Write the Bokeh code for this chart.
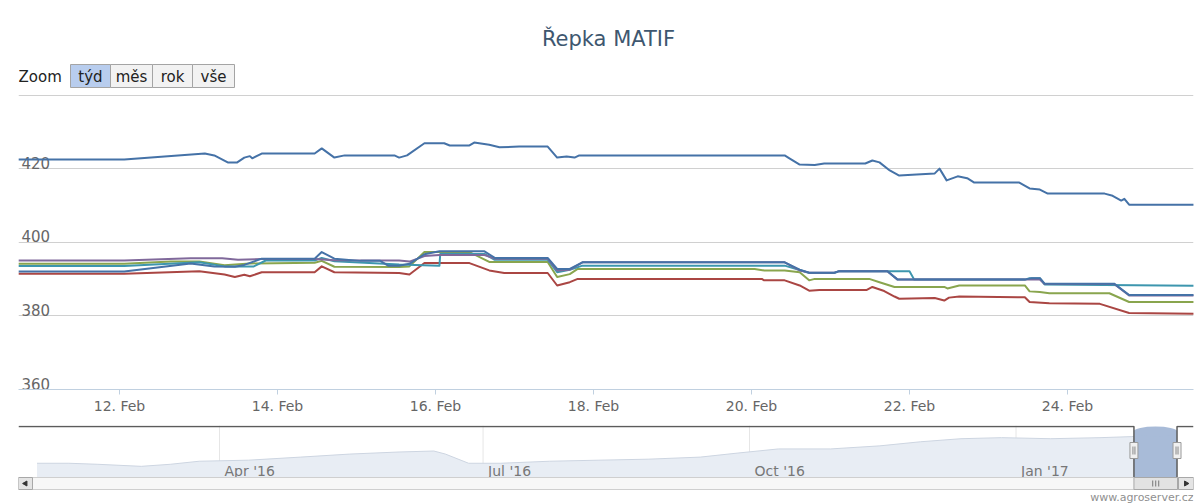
import numpy as np
import pandas as pd
from bokeh.plotting import figure
from bokeh.layouts import column
from bokeh.models import Range1d, FixedTicker, DatetimeTickFormatter, Grid
from bokeh.core.properties import value
from bokeh.embed import file_html
from bokeh.resources import INLINE

# ---------------- data ----------------
TITLE = "Řepka MATIF"
ZOOM_LABEL = "Zoom"
ZOOM_BUTTONS = ["týd", "měs", "rok", "vše"]
CREDITS = "www.agroserver.cz"

# x values are fractional days of February 2017
top_days = [10.72, 12.06, 13.08, 13.2, 13.37, 13.49, 13.58, 13.65, 13.68, 13.80, 14.47, 14.56, 14.72, 14.85,
            15.48, 15.54, 15.64, 15.86, 16.11, 16.18, 16.43, 16.49, 16.68, 16.81, 17.06, 17.42, 17.54, 17.66,
            17.76, 17.82, 20.42, 20.48, 20.61, 20.80, 20.92, 21.44, 21.53, 21.62, 21.75, 21.87, 22.09, 22.32,
            22.38, 22.47, 22.61, 22.73, 22.82, 23.39, 23.52, 23.65, 23.75, 24.47, 24.56, 24.68, 24.72, 24.78, 25.60]
top_vals = [422.6, 422.6, 424.2, 423.7, 421.8, 421.8, 423.1, 423.5, 422.9, 424.2, 424.2, 425.6, 423.1, 423.7,
            423.7, 423.1, 423.7, 427.0, 427.0, 426.4, 426.4, 427.2, 426.6, 425.9, 426.1, 426.1, 423.1, 423.4,
            423.1, 423.7, 423.7, 422.9, 421.2, 421.1, 421.5, 421.5, 422.3, 421.8, 419.6, 418.2, 418.5, 418.8,
            420.1, 416.9, 418.0, 417.5, 416.3, 416.3, 414.7, 414.4, 413.3, 413.3, 412.8, 411.4, 411.9, 410.3, 410.3]

purple_days = [10.72, 12.06, 12.9, 13.3, 13.5, 13.8, 14.47, 14.72, 15.54, 15.67, 15.86, 16.05, 16.62, 16.75,
               17.42, 17.54, 17.70, 17.86, 20.42, 20.61, 20.73, 21.05, 21.11, 21.72, 21.85, 23.65, 23.71, 24.59,
               24.78, 25.60]
purple_vals = [395.1, 395.1, 395.7, 395.7, 395.3, 395.5, 395.5, 395.2, 395.1, 394.8, 396.3, 396.6, 396.6, 395.6,
               395.6, 392.4, 392.6, 394.6, 394.6, 392.4, 391.8, 391.8, 392.2, 392.2, 389.9, 389.9, 388.7, 388.7,
               385.6, 385.6]

blue2_days = [10.72, 12.06, 12.9, 13.2, 13.46, 13.58, 13.80, 14.47, 14.56, 14.72, 15.05, 15.30, 15.40, 15.54,
              15.67, 15.86, 16.05, 16.62, 16.75, 17.42, 17.54, 17.70, 17.86, 20.42, 20.61, 20.73, 21.05, 21.11,
              21.72, 21.85, 23.46, 23.55, 23.65, 23.71, 24.59, 24.78, 25.60]
blue2_vals = [392.1, 392.1, 394.3, 393.5, 393.4, 393.9, 395.6, 395.6, 397.4, 395.6, 395.0, 395.0, 393.7, 393.7,
              394.2, 396.8, 397.6, 397.6, 395.8, 395.8, 392.8, 392.8, 394.6, 394.6, 392.6, 391.8, 391.8, 392.2,
              392.2, 389.9, 389.9, 390.3, 390.3, 388.8, 388.8, 385.7, 385.7]

teal_days = [10.72, 12.06, 13.01, 13.33, 13.70, 13.85, 14.47, 14.56, 14.72, 15.54, 16.05, 16.06, 16.62, 16.75,
             17.42, 17.54, 17.70, 17.86, 20.42, 20.61, 20.73, 21.05, 21.11, 22.00, 22.06, 23.46, 23.52, 23.65,
             23.71, 25.60]
teal_vals = [393.6, 393.6, 394.6, 393.5, 393.5, 395.1, 395.1, 395.8, 394.9, 394.0, 393.7, 396.9, 396.9, 395.3,
             395.3, 391.9, 392.6, 393.7, 393.7, 392.5, 391.7, 391.7, 392.2, 392.2, 389.9, 389.9, 390.3, 390.3,
             388.6, 388.2]

green_days = [10.72, 12.06, 12.65, 13.01, 13.33, 13.65, 14.47, 14.56, 14.72, 15.54, 15.67, 15.86, 16.43, 16.68,
              17.42, 17.54, 17.70, 17.80, 20.04, 20.16, 20.42, 20.61, 20.73, 20.80, 21.49, 21.62, 21.81, 22.44,
              22.48, 22.63, 23.46, 23.52, 23.65, 23.77, 24.53, 24.78, 25.60]
green_vals = [394.2, 394.2, 394.8, 394.8, 393.8, 394.3, 394.5, 395.0, 393.4, 393.3, 393.5, 397.4, 397.4, 394.7,
              394.7, 390.6, 391.4, 392.8, 392.8, 392.4, 392.4, 391.9, 389.7, 390.1, 390.1, 389.2, 387.9, 387.9,
              387.5, 388.3, 388.3, 386.7, 386.5, 386.2, 386.2, 383.8, 383.8]

red_days = [10.72, 12.06, 13.01, 13.33, 13.46, 13.58, 13.65, 13.80, 14.47, 14.56, 14.72, 15.54, 15.67, 15.86,
            16.43, 16.68, 16.87, 17.42, 17.54, 17.70, 17.80, 20.13, 20.16, 20.42, 20.61, 20.73, 20.86, 21.46,
            21.53, 21.68, 21.81, 21.87, 22.32, 22.44, 22.50, 22.63, 23.46, 23.52, 23.77, 24.41, 24.78, 25.60]
red_vals = [391.5, 391.5, 392.2, 391.3, 390.6, 391.2, 390.8, 391.9, 391.9, 393.5, 391.9, 391.7, 391.3, 394.4,
            394.4, 392.4, 391.7, 391.7, 388.3, 389.2, 390.1, 390.1, 389.7, 389.7, 388.3, 386.9, 387.1, 387.1,
            387.9, 386.8, 385.3, 384.7, 384.9, 384.2, 385.0, 385.3, 385.1, 383.8, 383.5, 383.3, 380.8, 380.6]

series_colors = ["#AA4643", "#89A54E", "#3D96AE", "#80699B", "#4572A7", "#4572A7"]

y_ticks = [360, 380, 400, 420, 440]
y_tick_labels = ["360", "380", "400", "420"]
x_tick_days = [12, 14, 16, 18, 20, 22, 24]

nav_dates = ["2016-01-29", "2016-02-09", "2016-02-19", "2016-03-05", "2016-03-15", "2016-03-25", "2016-04-11",
             "2016-04-29", "2016-05-16", "2016-06-02", "2016-06-14", "2016-06-18", "2016-06-26", "2016-07-07",
             "2016-07-24", "2016-08-10", "2016-08-27", "2016-09-14", "2016-09-27", "2016-10-11", "2016-10-29",
             "2016-11-15", "2016-11-29", "2016-12-13", "2016-12-27", "2017-01-13", "2017-01-30", "2017-02-10",
             "2017-02-17", "2017-02-25"]
nav_vals = [357.5, 357.5, 355.2, 350.7, 355.2, 362.0, 364.3, 371.1, 377.8, 382.4, 384.6, 377.8, 357.5, 357.5,
            362.0, 364.3, 366.5, 371.1, 380.1, 389.2, 389.2, 396.0, 405.0, 411.8, 414.1, 411.8, 414.1, 416.4,
            423.0, 410.3]
nav_tick_dates = ["2016-04-01", "2016-07-01", "2016-10-01", "2017-01-01"]
nav_tick_labels = ["Apr '16", "Jul '16", "Oct '16", "Jan '17"]

# ---------------- helpers ----------------
FONT = value("DejaVu Sans")
BASE = pd.Timestamp("2017-01-31")
DAY = pd.Timedelta(days=1)


def to_dt(days):
    return [BASE + pd.Timedelta(days=float(d)) for d in days]


def ms(ts):
    return ts.value / 1e6


W = 1195
LEFT, RIGHT = 18, 2
FRAME_W = W - LEFT - RIGHT

# ---------------- header (coordinates = page pixels) ----------------
HH = 93
hdr = figure(width=W, height=HH, x_range=Range1d(LEFT, W - RIGHT), y_range=Range1d(HH, 0),
             toolbar_location=None, output_backend="svg",
             min_border_left=LEFT, min_border_right=RIGHT, min_border_top=0, min_border_bottom=0,
             x_axis_location=None, y_axis_location=None, outline_line_color=None)
hdr.grid.visible = False
hdr.text(x=[608], y=[38], text=[TITLE], text_font=FONT, text_font_size="21px",
         text_color="#3E576F", text_align="center", text_baseline="middle")
hdr.text(x=[18], y=[76], text=[ZOOM_LABEL], text_font=FONT, text_font_size="15px",
         text_color="#222222", text_align="left", text_baseline="middle")
b_left = [70, 110, 152, 192]
b_right = [110, 152, 192, 234]
b_fill = ["#b8cdee", "#f2f2f2", "#f2f2f2", "#f2f2f2"]
hdr.quad(left=b_left, right=b_right, top=[64] * 4, bottom=[87] * 4, fill_color=b_fill,
         line_color="#a4a4a4", line_width=1)
hdr.text(x=[(a + b) / 2 for a, b in zip(b_left, b_right)], y=[76] * 4, text=ZOOM_BUTTONS, text_font=FONT,
         text_font_size="15px", text_color="#222222", text_align="center", text_baseline="middle")

# ---------------- main chart ----------------
PX_PER_DAY = 79.0
FEB12_PX = 119.0
x0 = BASE + pd.Timedelta(days=12 + (LEFT - FEB12_PX) / PX_PER_DAY)
x1 = BASE + pd.Timedelta(days=12 + (W - RIGHT - FEB12_PX) / PX_PER_DAY)

main = figure(width=W, height=327, x_axis_type="datetime", x_range=Range1d(x0, x1),
              y_range=Range1d(360, 440.27), toolbar_location=None, output_backend="svg",
              min_border_left=LEFT, min_border_right=RIGHT, min_border_top=1, min_border_bottom=31,
              y_axis_location=None, outline_line_color=None)
main.grid.visible = False
main.add_layout(Grid(dimension=1, ticker=FixedTicker(ticks=y_ticks), grid_line_color="#d0d0d0",
                     grid_line_width=1))

xa = main.xaxis[0]
xa.ticker = FixedTicker(ticks=[ms(t) for t in to_dt(x_tick_days)])
fmt = "%d. %b"
xa.formatter = DatetimeTickFormatter(days=fmt, hours=fmt, months=fmt, minutes=fmt, hourmin=fmt)
xa.axis_line_color = "#C0D0E0"
xa.major_tick_line_color = "#C0D0E0"
xa.major_tick_out = 5
xa.major_tick_in = 0
xa.minor_tick_line_color = None
xa.major_label_text_font = "DejaVu Sans"
xa.major_label_text_font_size = "14px"
xa.major_label_text_color = "#666666"
xa.major_label_standoff = 3

main.text(x=[x0] * len(y_tick_labels), y=[float(v) for v in y_tick_labels], text=y_tick_labels,
          text_font=FONT, text_font_size="15px", text_color="#666666", text_align="left",
          text_baseline="bottom", x_offset=3)

lower = [(red_days, red_vals), (green_days, green_vals), (teal_days, teal_vals),
         (purple_days, purple_vals), (blue2_days, blue2_vals), (top_days, top_vals)]
for (d, v), c in zip(lower, series_colors):
    main.line(to_dt(d), v, line_color=c, line_width=2, line_join="round")

# ---------------- navigator ----------------
NAV_H = 83
NAV_TOP = 5
NAV_FRAME_H = NAV_H - NAV_TOP
NAV_AREA_H = 52
nav_lo, nav_hi = 326.0, 441.0
upp = (nav_hi - nav_lo) / NAV_AREA_H
ppd = (1015.5 - 219.0) / 275.0
n0 = pd.Timestamp("2016-04-01") - pd.Timedelta(days=(219 - LEFT) / ppd)
n1 = n0 + pd.Timedelta(days=FRAME_W / ppd)

nav = figure(width=W, height=NAV_H, x_axis_type="datetime", x_range=Range1d(n0, n1),
             y_range=Range1d(nav_lo - (NAV_FRAME_H - NAV_AREA_H) * upp, nav_hi),
             toolbar_location=None, output_backend="svg",
             min_border_left=LEFT, min_border_right=RIGHT, min_border_top=NAV_TOP, min_border_bottom=0,
             x_axis_location=None, y_axis_location=None, outline_line_color=None)
nav.grid.visible = False
nav.extra_x_ranges = {"px": Range1d(0, FRAME_W)}
nav.extra_y_ranges = {"py": Range1d(NAV_FRAME_H, 0)}

qd = [pd.Timestamp(d) for d in nav_tick_dates]
nav.segment(x0=qd, y0=[0] * 4, x1=qd, y1=[NAV_AREA_H] * 4, y_range_name="py",
            line_color="#e6e6e6", line_width=1)
nd = [pd.Timestamp(d) for d in nav_dates]
nav.varea(x=nd, y1=[nav_lo] * len(nd), y2=nav_vals, fill_color="#e8edf4")
nav.line(nd, nav_vals, line_color="#cdd5e1", line_width=1)
nav.text(x=qd, y=[45] * 4, y_range_name="py", text=nav_tick_labels, text_font=FONT,
         text_font_size="14px", text_color="#777777", text_align="left", text_baseline="alphabetic",
         x_offset=5)

# selection (main chart range on navigator scale, in px)
s0 = (x0 - n0) / DAY * ppd
s1 = (x1 - n0) / DAY * ppd
nav.quad(left=[s0], right=[s1], top=[5], bottom=[NAV_AREA_H], x_range_name="px", y_range_name="py",
         fill_color="#a8bbd8", line_color=None)
nav.ellipse(x=[(s0 + s1) / 2], y=[6], width=[s1 - s0], height=[10], x_range_name="px", y_range_name="py",
            fill_color="#a8bbd8", line_color=None)
# outline
nav.line(x=[0, s0, s0], y=[1, 1, NAV_AREA_H], x_range_name="px", y_range_name="py",
         line_color="#5c5c5c", line_width=1.5)
nav.line(x=[s1, s1, FRAME_W], y=[NAV_AREA_H, 1, 1], x_range_name="px", y_range_name="py",
         line_color="#5c5c5c", line_width=1.5)
# handles
nav.quad(left=[s0 - 4, s1 - 4], right=[s0 + 4, s1 + 4], top=[17, 17], bottom=[33, 33],
         x_range_name="px", y_range_name="py", fill_color="#f0f0f0", line_color="#9a9a9a")
nav.segment(x0=[s0 - 1, s0 + 1, s1 - 1, s1 + 1], y0=[21] * 4, x1=[s0 - 1, s0 + 1, s1 - 1, s1 + 1],
            y1=[29] * 4, x_range_name="px", y_range_name="py", line_color="#888888", line_width=1)

# scrollbar
SB_T, SB_B = NAV_AREA_H, NAV_AREA_H + 12
nav.quad(left=[0], right=[FRAME_W], top=[SB_T], bottom=[SB_B], x_range_name="px", y_range_name="py",
         fill_color="#f7f7f7", line_color="#cfcfcf")
nav.quad(left=[0, FRAME_W - 15], right=[14, FRAME_W], top=[SB_T] * 2, bottom=[SB_B] * 2,
         x_range_name="px", y_range_name="py", fill_color="#e4e4e4", line_color="#a8a8a8")
nav.quad(left=[s0], right=[FRAME_W - 16], top=[SB_T], bottom=[SB_B], x_range_name="px",
         y_range_name="py", fill_color="#e2e2e2", line_color="#a8a8a8")
gx = (s0 + FRAME_W - 16) / 2
nav.segment(x0=[gx - 3, gx, gx + 3], y0=[SB_T + 3] * 3, x1=[gx - 3, gx, gx + 3], y1=[SB_B - 3] * 3,
            x_range_name="px", y_range_name="py", line_color="#777777", line_width=1)
nav.scatter(x=[7, FRAME_W - 7.5], y=[(SB_T + SB_B) / 2] * 2, marker="triangle",
            angle=[np.pi / 2, -np.pi / 2], size=5, x_range_name="px", y_range_name="py",
            fill_color="#333333", line_color="#333333")

nav.text(x=[FRAME_W], y=[NAV_FRAME_H - 6], x_range_name="px", y_range_name="py", text=[CREDITS],
         text_font=FONT, text_font_size="11px", text_color="#909090", text_align="right",
         text_baseline="alphabetic")

for f in (hdr, main, nav):
    f.background_fill_color = "white"
    f.border_fill_color = "white"

layout = column(hdr, main, nav, spacing=0)
open("out.html", "w").write(file_html(layout, INLINE))
